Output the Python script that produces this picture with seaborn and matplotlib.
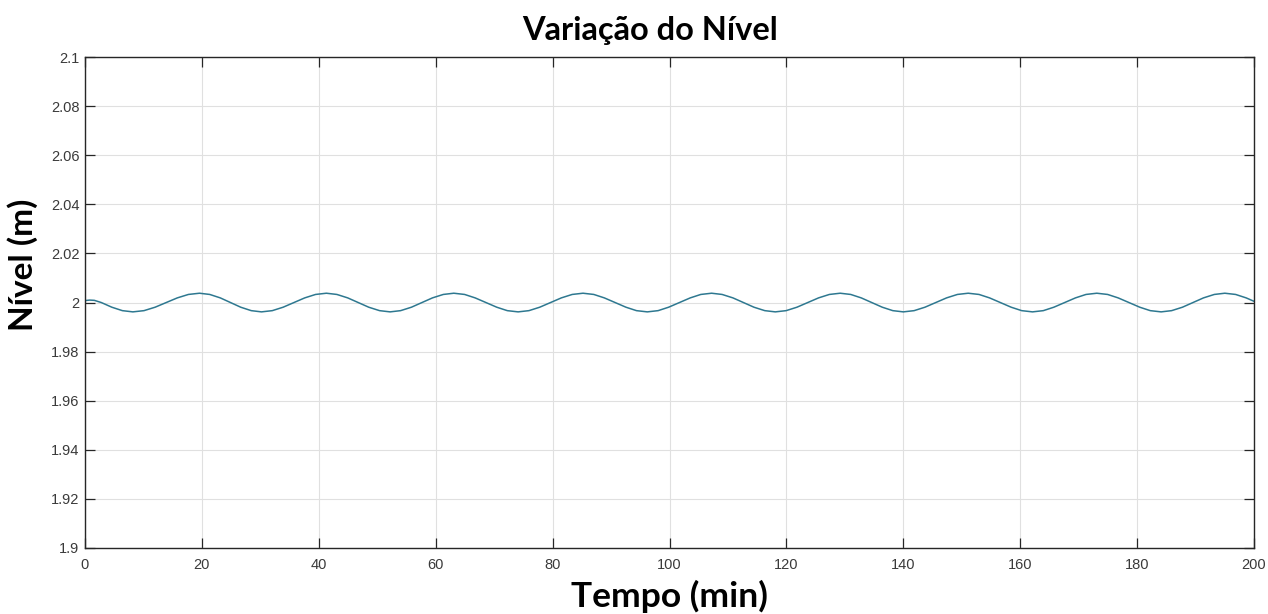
import matplotlib
matplotlib.use("Agg")
import matplotlib.pyplot as plt
import seaborn as sns
import pandas as pd

# Simulated tank level over time
tempo_min = [
    0.0, 0.8, 1.6, 2.8, 4.6, 6.4, 8.2,
    10.1, 12.0, 13.9, 15.8, 17.7, 19.6,
    21.35, 23.15, 24.9, 26.65, 28.45, 30.2,
    32.05, 33.9, 35.75, 37.6, 39.45, 41.3,
    43.1, 44.95, 46.75, 48.55, 50.4, 52.2,
    54.0, 55.85, 57.65, 59.45, 61.3, 63.1,
    64.95, 66.75, 68.6, 70.45, 72.25, 74.1,
    75.95, 77.8, 79.65, 81.5, 83.35, 85.2,
    87.05, 88.85, 90.7, 92.55, 94.35, 96.2,
    98.05, 99.85, 101.7, 103.55, 105.35, 107.2,
    109.0, 110.85, 112.65, 114.45, 116.3, 118.1,
    119.95, 121.8, 123.65, 125.5, 127.35, 129.2,
    131.0, 132.8, 134.6, 136.4, 138.2, 140.0,
    141.85, 143.7, 145.55, 147.4, 149.25, 151.1,
    152.95, 154.75, 156.6, 158.45, 160.25, 162.1,
    163.95, 165.75, 167.6, 169.45, 171.25, 173.1,
    174.95, 176.75, 178.6, 180.45, 182.25, 184.1,
    185.9, 187.75, 189.55, 191.35, 193.2, 195.0,
    196.85, 198.65, 200.0,
]
nivel_m = [
    2.0008, 2.0010, 2.0009, 2.0000, 1.9981, 1.9967, 1.9962,
    1.9967, 1.9981, 2.0000, 2.0019, 2.0033, 2.0038,
    2.0033, 2.0019, 2.0000, 1.9981, 1.9967, 1.9962,
    1.9967, 1.9981, 2.0000, 2.0019, 2.0033, 2.0038,
    2.0033, 2.0019, 2.0000, 1.9981, 1.9967, 1.9962,
    1.9967, 1.9981, 2.0000, 2.0019, 2.0033, 2.0038,
    2.0033, 2.0019, 2.0000, 1.9981, 1.9967, 1.9962,
    1.9967, 1.9981, 2.0000, 2.0019, 2.0033, 2.0038,
    2.0033, 2.0019, 2.0000, 1.9981, 1.9967, 1.9962,
    1.9967, 1.9981, 2.0000, 2.0019, 2.0033, 2.0038,
    2.0033, 2.0019, 2.0000, 1.9981, 1.9967, 1.9962,
    1.9967, 1.9981, 2.0000, 2.0019, 2.0033, 2.0038,
    2.0033, 2.0019, 2.0000, 1.9981, 1.9967, 1.9962,
    1.9967, 1.9981, 2.0000, 2.0019, 2.0033, 2.0038,
    2.0033, 2.0019, 2.0000, 1.9981, 1.9967, 1.9962,
    1.9967, 1.9981, 2.0000, 2.0019, 2.0033, 2.0038,
    2.0033, 2.0019, 2.0000, 1.9981, 1.9967, 1.9962,
    1.9967, 1.9981, 2.0000, 2.0019, 2.0033, 2.0038,
    2.0033, 2.0019, 2.0005,
]
x_ticks = [0, 20, 40, 60, 80, 100, 120, 140, 160, 180, 200]
y_ticks = [1.9, 1.92, 1.94, 1.96, 1.98, 2.0, 2.02, 2.04, 2.06, 2.08, 2.1]
y_tick_labels = ["1.9", "1.92", "1.94", "1.96", "1.98", "2", "2.02", "2.04", "2.06", "2.08", "2.1"]

df = pd.DataFrame({"Tempo": tempo_min, "Nivel": nivel_m})

sns.set_theme(style="white")
plt.rcParams["font.family"] = ["Liberation Sans", "DejaVu Sans"]

fig = plt.figure(figsize=(12.68, 6.14), dpi=100)
ax = fig.add_axes([0.067, 0.1075, 0.922, 0.7995])

sns.lineplot(data=df, x="Tempo", y="Nivel", ax=ax, color="#2e7890",
             linewidth=1.1, sort=False)

ax.set_xlim(0, 200)
ax.set_ylim(1.9, 2.1)
ax.set_xticks(x_ticks)
ax.set_xticklabels([str(t) for t in x_ticks])
ax.set_yticks(y_ticks)
ax.set_yticklabels(y_tick_labels)

ax.grid(True, color="#e0e0e0", linewidth=0.8)
ax.set_axisbelow(True)
for side in ["left", "right", "top", "bottom"]:
    ax.spines[side].set_visible(True)
    ax.spines[side].set_color("#262626")
    ax.spines[side].set_linewidth(1.0)

ax.tick_params(axis="both", which="both", direction="in", length=7, width=0.9,
               colors="#262626", labelsize=10.5, labelcolor="#3a3a3a",
               top=True, right=True, bottom=True, left=True)
ax.tick_params(axis="x", pad=7)
ax.tick_params(axis="y", pad=4)

bold_family = ["Lato", "DejaVu Sans"]
ax.set_xlabel("Tempo (min)", fontsize=25.5, fontweight="bold", family=bold_family,
              color="black", labelpad=6)
ax.set_ylabel("Nível (m)", fontsize=24, fontweight="bold", family=bold_family,
              color="black")
ax.yaxis.label.set_verticalalignment("center")
ax.yaxis.set_label_coords(-0.0535, 0.576)
ax.set_title("Variação do Nível", fontsize=23.5, fontweight="bold", family=bold_family,
             color="black", x=0.4837, pad=12)

fig.savefig("out.png", dpi=100)
